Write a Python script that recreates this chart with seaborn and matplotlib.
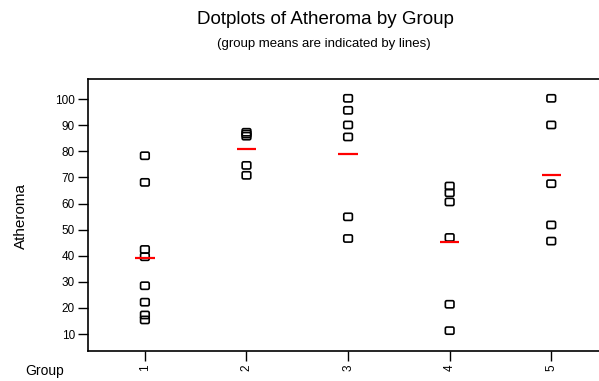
import numpy as np
import pandas as pd
import matplotlib
matplotlib.use("Agg")
import matplotlib.pyplot as plt
from matplotlib.path import Path
import seaborn as sns

# ---- data ----
group1 = [78.3, 68.1, 42.4, 39.6, 28.5, 22.2, 17.3, 15.4]
group2 = [87.3, 86.6, 85.8, 74.6, 70.8]
group3 = [100.3, 95.7, 90.1, 85.5, 54.9, 46.6]
group4 = [66.7, 64.1, 60.6, 47.0, 21.4, 11.3]
group5 = [100.3, 90.1, 67.6, 51.8, 45.6]
group_labels = ["1", "2", "3", "4", "5"]
y_ticks = [10, 20, 30, 40, 50, 60, 70, 80, 90, 100]

groups = [group1, group2, group3, group4, group5]
df = pd.DataFrame({
    "Group": np.concatenate([[g] * len(v) for g, v in zip(group_labels, groups)]),
    "Atheroma": np.concatenate(groups),
})

sns.set_theme(style="white")
plt.rcParams["font.family"] = ["Liberation Sans", "DejaVu Sans"]
plt.rcParams["text.color"] = "black"
plt.rcParams["xtick.color"] = "black"
plt.rcParams["ytick.color"] = "black"

fig = plt.figure(figsize=(5.99, 3.81), dpi=100)
ax = fig.add_axes([88 / 599, 30 / 381, 1 - 88 / 599, 272 / 381])

# rounded-rectangle marker
w, h, r = 0.6, 0.5, 0.2
verts = [(-w + r, -h), (w - r, -h), (w, -h), (w, -h + r), (w, h - r), (w, h), (w - r, h),
         (-w + r, h), (-w, h), (-w, h - r), (-w, -h + r), (-w, -h), (-w + r, -h), (-w + r, -h)]
codes = [Path.MOVETO, Path.LINETO, Path.CURVE3, Path.CURVE3, Path.LINETO, Path.CURVE3,
         Path.CURVE3, Path.LINETO, Path.CURVE3, Path.CURVE3, Path.LINETO, Path.CURVE3,
         Path.CURVE3, Path.CLOSEPOLY]
rrect = Path(verts, codes)

sns.stripplot(data=df, x="Group", y="Atheroma", order=group_labels, jitter=False,
              marker=rrect, s=6.2, color="white", edgecolor="black", linewidth=1.2, ax=ax)
for c in ax.collections:
    c.set_facecolor("none")
    c.set_edgecolor("black")

means = df.groupby("Group")["Atheroma"].mean().reindex(group_labels)
ax.hlines(means.values, np.arange(len(group_labels)) - 0.095,
          np.arange(len(group_labels)) + 0.095, color="#ff0000", linewidth=1.6, zorder=3)

ax.set_xlim(-0.56, 4.47)
ax.set_ylim(3.5, 107.7)
ax.set_yticks(y_ticks)
ax.set_yticklabels([str(t) for t in y_ticks], fontsize=8.5)
ax.set_xticks(range(len(group_labels)))
ax.set_xticklabels(group_labels, rotation=90, fontsize=8.5)
ax.tick_params(axis="both", which="both", direction="out", length=7.5, width=1,
               color="black", labelcolor="black", pad=2, left=True, bottom=True)
ax.set_xlabel("")
ax.set_ylabel("")
for side in ["left", "bottom", "top"]:
    ax.spines[side].set_visible(True)
    ax.spines[side].set_color("black")
    ax.spines[side].set_linewidth(1.2)
ax.spines["right"].set_visible(False)

fig.text(325 / 599, 1 - 20 / 381, "Dotplots of Atheroma by Group", ha="center", va="center",
         fontsize=13.5, color="black")
fig.text(324 / 599, 1 - 44 / 381, "(group means are indicated by lines)", ha="center",
         va="center", fontsize=9.5, color="black")
fig.text(21 / 599, 1 - 216 / 381, "Atheroma", rotation=90, ha="center", va="center",
         fontsize=11, color="black")
fig.text(45 / 599, 1 - 371 / 381, "Group", ha="center", va="center", fontsize=10,
         color="black")

fig.savefig("out.png", dpi=100)
